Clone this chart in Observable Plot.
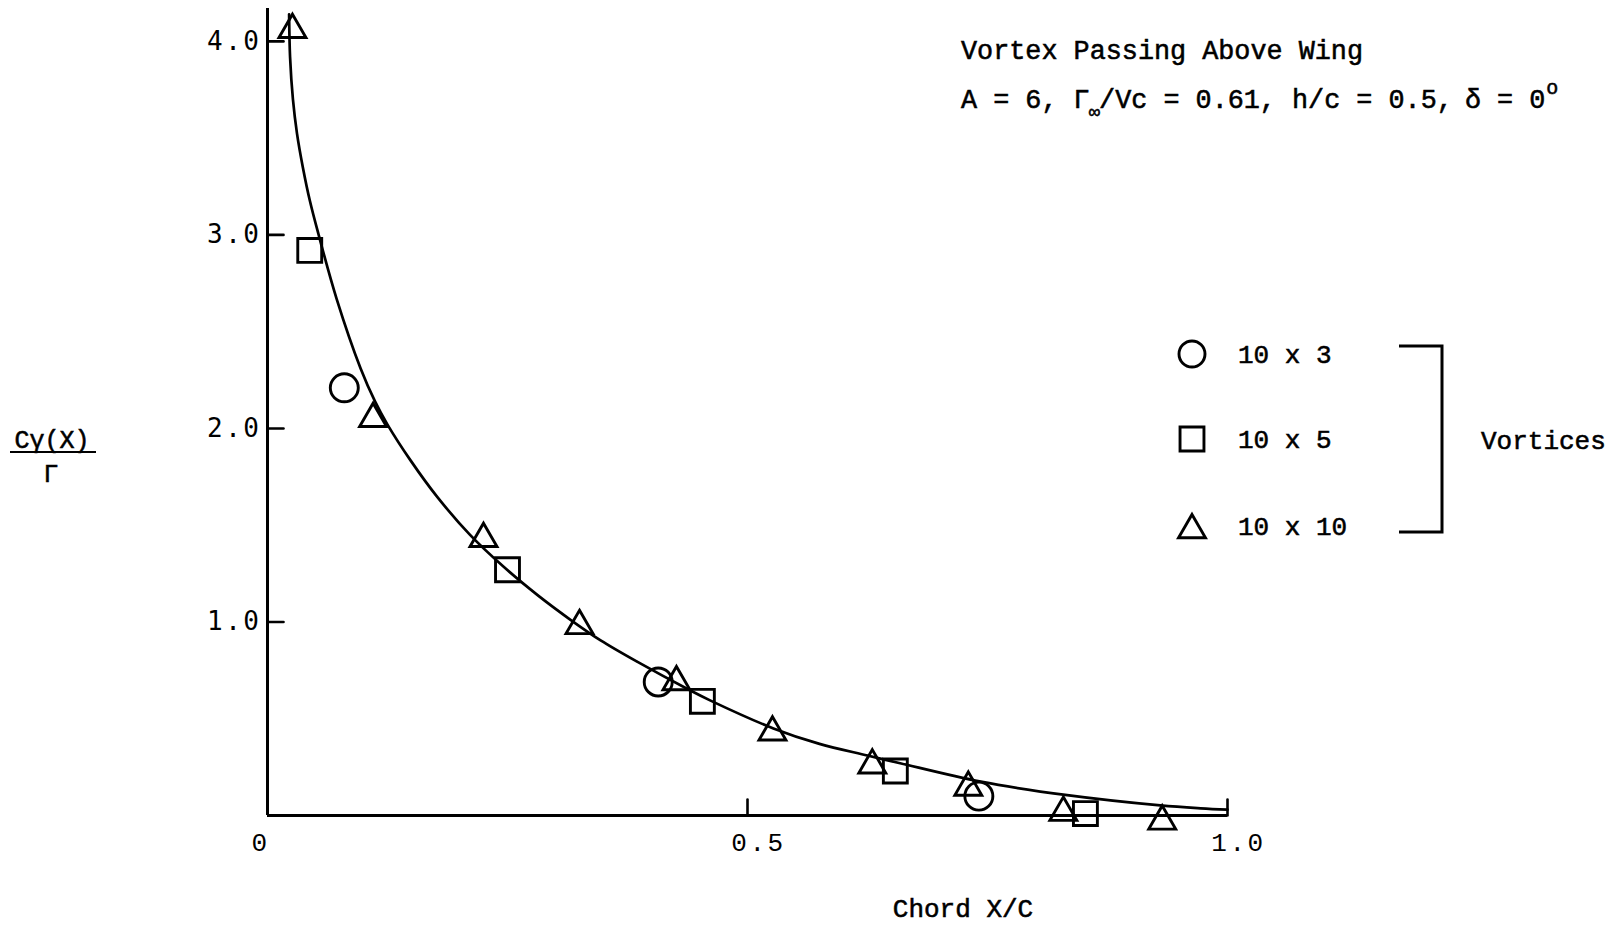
<!DOCTYPE html>
<html>
<head>
<meta charset="utf-8">
<script src="https://cdn.jsdelivr.net/npm/d3@7"></script>
<script src="https://cdn.jsdelivr.net/npm/@observablehq/plot@0.6"></script>
<style>
  html, body { margin: 0; padding: 0; background: #fff; overflow: hidden; }
  #chart { position: relative; width: 1617px; height: 931px; }
  #chart svg { position: absolute; left: 0; top: 0; }
  .mono { font-family: "Liberation Mono", "DejaVu Sans Mono", monospace; fill: #000; }
</style>
</head>
<body>
<div id="chart"></div>
<script>
// Bound vortex strength distribution along the chord, vortex passing above wing.
// Computed points for three vortex-lattice densities (chordwise x spanwise).

// 10 x 3 lattice
const circleX = [0.080, 0.407, 0.741];
const circleY = [2.21, 0.69, 0.10];

// 10 x 5 lattice
const squareX = [0.044, 0.250, 0.453, 0.654, 0.852];
const squareY = [2.92, 1.27, 0.59, 0.23, 0.01];

// 10 x 10 lattice
const triangleX = [0.026, 0.110, 0.225, 0.325, 0.426, 0.526, 0.630, 0.730, 0.829, 0.932];
const triangleY = [4.06, 2.05, 1.43, 0.98, 0.69, 0.43, 0.26, 0.145, 0.015, -0.03];

// Faired curve through the results
const curveX = [0.0225, 0.0235, 0.0265, 0.0307, 0.0368, 0.0442, 0.0533, 0.072, 0.097, 0.112, 0.125, 0.149,
                0.177, 0.211, 0.246, 0.281, 0.316, 0.347, 0.385, 0.439, 0.461, 0.527, 0.575, 0.625,
                0.659, 0.743, 0.833, 0.930, 0.972, 1.000];
const curveY = [4.14, 3.92, 3.70, 3.525, 3.35, 3.175, 3.00, 2.67, 2.31, 2.14, 2.02, 1.835,
                1.645, 1.45, 1.285, 1.14, 1.01, 0.905, 0.795, 0.65, 0.595, 0.45, 0.37, 0.31,
                0.27, 0.175, 0.105, 0.052, 0.037, 0.03];

// Axis ticks
const xTicks = [0.5, 1.0];
const xTickLabels = ["0", "0.5", "1.0"];
const yTicks = [1, 2, 3, 4];
const yTickLabels = ["1.0", "2.0", "3.0", "4.0"];

// Legend
const legendSymbols = ["circle", "square", "triangle"];
const legendLabels = ["10 x 3", "10 x 5", "10 x 10"];

const toRows = (xs, ys) => xs.map((x, i) => ({x, y: ys[i]}));
const circles = toRows(circleX, circleY);
const squares = toRows(squareX, squareY);
const triangles = toRows(triangleX, triangleY);
const curve = toRows(curveX, curveY);

const W = 1617, H = 931;
const yMax = 4.17;
const ink = "#000";
const markStroke = 2.9;

// straight tick stroke for vector marks
const tickShape = {draw(context, l) { context.moveTo(0, 0); context.lineTo(0, -l); }};

const chart = Plot.plot({
  width: W,
  height: H,
  marginLeft: 267,
  marginRight: 390,
  marginTop: 8,
  marginBottom: 116,
  x: {domain: [0, 1]},
  y: {domain: [0, yMax]},
  style: {fontFamily: "Liberation Mono, DejaVu Sans Mono, monospace", fontSize: "26px", color: ink, background: "transparent"},
  marks: [
    // axis lines
    Plot.ruleX([0], {y1: 0, y2: yMax, stroke: ink, strokeWidth: 3}),
    Plot.ruleY([0], {x1: 0, x2: 1, stroke: ink, strokeWidth: 3}),
    // inward tick marks
    Plot.vector(yTicks, {x: 0, y: d => d, length: 16, rotate: 90, anchor: "start", shape: tickShape, stroke: ink, strokeWidth: 2.6}),
    Plot.vector(xTicks, {x: d => d, y: 0, length: 16, rotate: 0, anchor: "start", shape: tickShape, stroke: ink, strokeWidth: 2.6}),
    // tick labels
    Plot.axisY(yTicks, {anchor: "left", tickSize: 0, tickPadding: 6, label: null,
      tickFormat: d => yTickLabels[yTicks.indexOf(d)], fontSize: 26, fontFamily: "DejaVu Sans Mono",
      stroke: ink, strokeWidth: 0.5}),
    Plot.axisX([0], {anchor: "bottom", tickSize: 0, tickPadding: 17, label: null, textAnchor: "end", dx: 2,
      tickFormat: () => xTickLabels[0], fontSize: 26, stroke: ink, strokeWidth: 0.55}),
    Plot.axisX(xTicks, {anchor: "bottom", tickSize: 0, tickPadding: 17, label: null, dx: 11,
      tickFormat: d => xTickLabels[xTicks.indexOf(d) + 1], fontSize: 26, stroke: ink, strokeWidth: 0.55}),
    // faired curve
    Plot.line(curve, {x: "x", y: "y", curve: "catmull-rom", stroke: ink, strokeWidth: 2.7}),
    // lattice results
    Plot.dot(circles, {x: "x", y: "y", symbol: "circle", r: 14, stroke: ink, fill: "none", strokeWidth: markStroke}),
    Plot.dot(squares, {x: "x", y: "y", symbol: "square", r: 13.5, stroke: ink, fill: "none", strokeWidth: markStroke}),
    Plot.dot(triangles, {x: "x", y: "y", symbol: "triangle", r: 10, stroke: ink, fill: "none", strokeWidth: markStroke})
  ]
});
document.getElementById("chart").appendChild(chart);

// typewriter-style spacing for the numeric tick labels
d3.select(chart).selectAll("g[aria-label='y-axis tick label'] text, g[aria-label='x-axis tick label'] text")
  .style("letter-spacing", "2.5px");

// Annotations, y-axis fraction label, legend
const overlay = d3.select("#chart").append("svg")
  .attr("width", W).attr("height", H)
  .style("pointer-events", "none");

const textStyle = sel => sel.attr("class", "mono").attr("stroke", ink).attr("stroke-width", 0.55);

// case description
textStyle(overlay.append("text").attr("x", 961).attr("y", 59).attr("font-size", 26.8))
  .text("Vortex Passing Above Wing");
const line2 = textStyle(overlay.append("text").attr("x", 961).attr("y", 108).attr("font-size", 26.8));
line2.append("tspan").text("A = 6, Γ");
line2.append("tspan").attr("font-size", 19).attr("dy", 10).attr("dx", -1).text("∞");
line2.append("tspan").attr("dy", -10).attr("dx", -1).text("/Vc = 0.61, h/c = 0.5,");
line2.append("tspan").attr("dx", -4).text(" δ = 0");
line2.append("tspan").attr("font-size", 20).attr("dy", -14).attr("dx", 1).text("o");

// y-axis label as a fraction
textStyle(overlay.append("text").attr("x", 52).attr("y", 448).attr("font-size", 25).attr("text-anchor", "middle"))
  .text("Cγ(X)");
overlay.append("line").attr("x1", 10).attr("x2", 96).attr("y1", 452).attr("y2", 452)
  .attr("stroke", ink).attr("stroke-width", 2.2);
textStyle(overlay.append("text").attr("x", 51).attr("y", 482).attr("font-size", 25).attr("text-anchor", "middle"))
  .text("Γ");

// x-axis title
textStyle(overlay.append("text").attr("x", 963).attr("y", 917).attr("font-size", 26).attr("text-anchor", "middle"))
  .text("Chord X/C");

// legend
const legendY = [354, 439, 530];
const legendR = [13, 13.5, 10];
legendSymbols.forEach((s, i) => {
  const sym = {circle: d3.symbolCircle, square: d3.symbolSquare, triangle: d3.symbolTriangle}[s];
  overlay.append("path")
    .attr("transform", `translate(1192,${legendY[i]})`)
    .attr("d", d3.symbol(sym, Math.PI * legendR[i] * legendR[i])())
    .attr("fill", "none").attr("stroke", ink).attr("stroke-width", markStroke);
  textStyle(overlay.append("text").attr("x", 1238).attr("y", legendY[i] + 9 + (i === 2 ? -4 : 0)).attr("font-size", 26))
    .text(legendLabels[i]);
});
overlay.append("path")
  .attr("d", "M1399,346 H1442 V532 H1399")
  .attr("fill", "none").attr("stroke", ink).attr("stroke-width", 3);
textStyle(overlay.append("text").attr("x", 1481).attr("y", 449).attr("font-size", 26))
  .text("Vortices");
</script>
</body>
</html>
